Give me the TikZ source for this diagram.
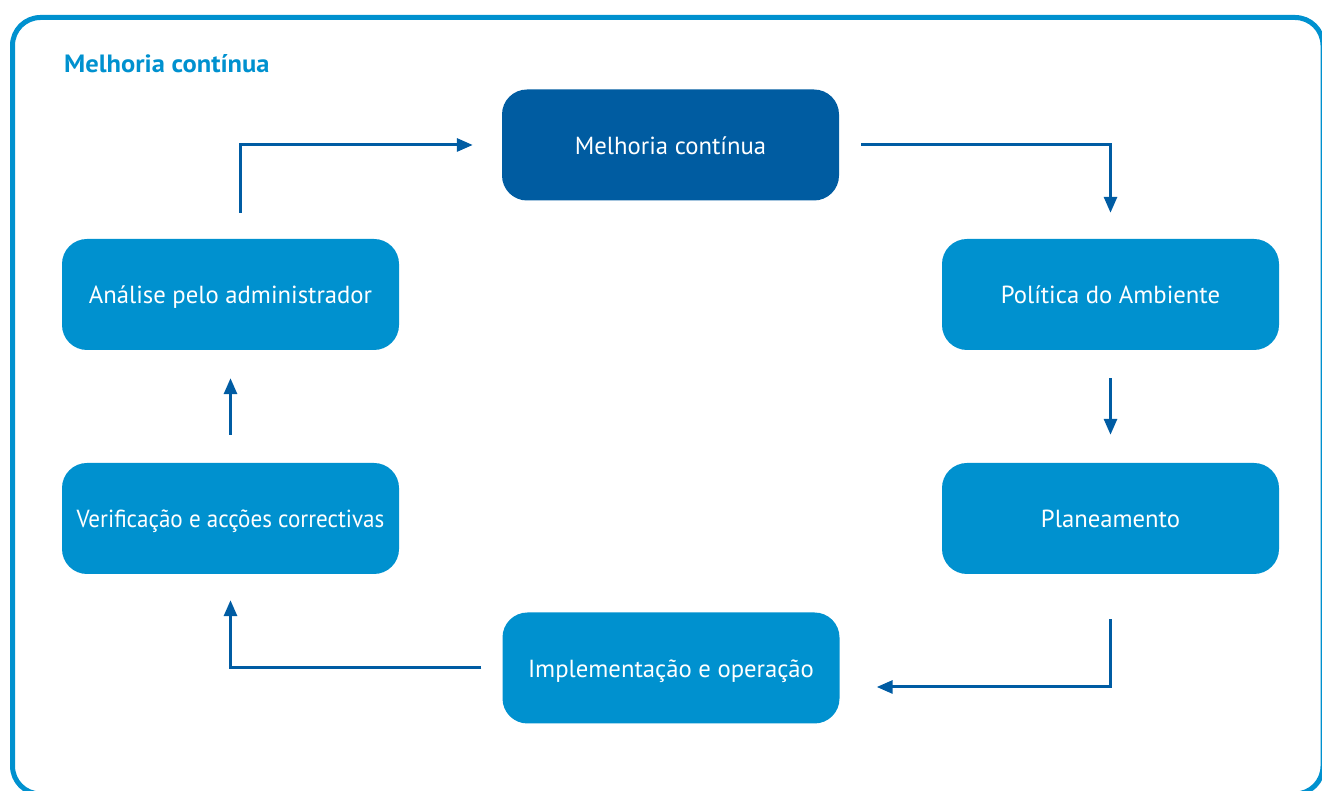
\documentclass[tikz,border=0pt]{standalone}
\usepackage{fontspec}
\setmainfont{PT Sans}
\usetikzlibrary{arrows.meta,calc}
\definecolor{lightblue}{HTML}{0091CF}
\definecolor{darkblue}{HTML}{005CA1}
\definecolor{arrowblue}{HTML}{005CA3}
\tikzset{
  x=1pt, y=1pt,
  stage/.style={rounded corners=25pt, minimum width=337pt, minimum height=111pt,
    inner sep=0pt, text=white, font=\fontsize{24.7}{28}\selectfont,
    text height=19pt, text depth=0pt},
  lightstage/.style={stage, fill=lightblue},
  darkstage/.style={stage, fill=darkblue},
  flow/.style={draw=arrowblue, line width=3pt,
    -{Triangle[length=16pt,width=13pt]}},
}
\begin{document}
\begin{tikzpicture}
  \useasboundingbox (0,0) rectangle (1322,791);
  \clip (0,0) rectangle (1322,791);
  % outer frame
  \draw[lightblue, line width=5pt, rounded corners=28pt]
    (12.5,-3) rectangle (1323,773.5);
  \node[anchor=base west, inner sep=0pt, text=lightblue,
        font=\fontsize{25}{28}\selectfont\bfseries] (title) at (64,718)
        {\scalebox{1.06}[1]{Melhoria contínua}};

  % stages of the cycle
  \node[darkstage]  (mel) at (670.5,646)   {Melhoria contínua};
  \node[lightstage] (pol) at (1110.5,496.5) {Política do Ambiente};
  \node[lightstage] (pla) at (1110.5,272.5) {Planeamento};
  \node[lightstage] (imp) at (671,123)     {Implementação e operação};
  \node[lightstage] (ver) at (230.5,272.5) {\scalebox{0.935}[1]{Verificação e acções correctivas}};
  \node[lightstage] (ana) at (230.5,496.5) {Análise pelo administrador};

  % connectors
  \draw[flow] ([xshift=9.5pt,yshift=26pt]ana.north) |- ([xshift=-29pt]mel.west);
  \draw[flow] ([xshift=22pt]mel.east) -| ([yshift=26pt]pol.north);
  \draw[flow] ([yshift=-28pt]pol.south) -- ([yshift=28pt]pla.north);
  \draw[flow] ([yshift=-45pt]pla.south) |- ([xshift=37pt,yshift=-19pt]imp.east);
  \draw[flow] ([xshift=-21pt]imp.west) -| ([yshift=-26pt]ver.south);
  \draw[flow] ([yshift=28pt]ver.north) -- ([yshift=-28pt]ana.south);
\end{tikzpicture}
\end{document}
